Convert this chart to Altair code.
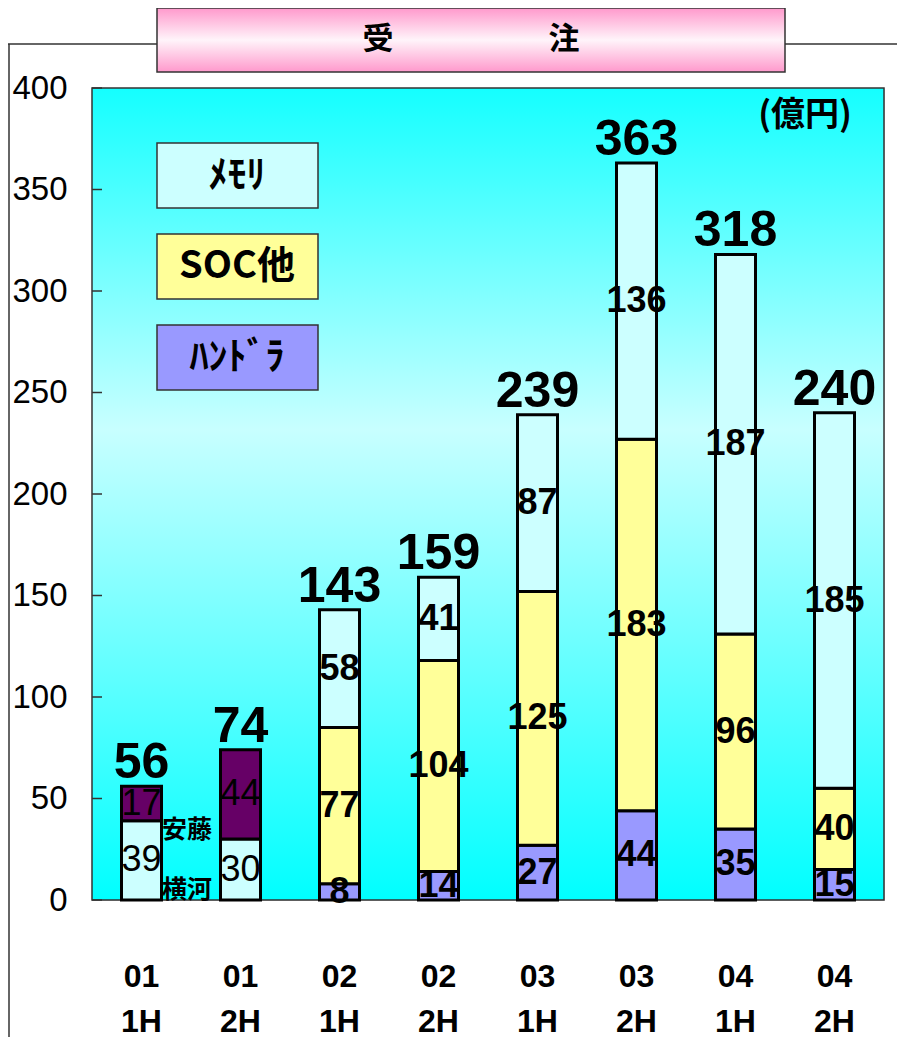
import altair as alt
import pandas as pd

# ---------------- data ----------------
periods = ["01 1H", "01 2H", "02 1H", "02 2H", "03 1H", "03 2H", "04 1H", "04 2H"]
yokogawa = [39, 30, None, None, None, None, None, None]
ando = [17, 44, None, None, None, None, None, None]
handler = [None, None, 8, 14, 27, 44, 35, 15]
soc = [None, None, 77, 104, 125, 183, 96, 40]
memory = [None, None, 58, 41, 87, 136, 187, 185]

series_names = ["横河", "安藤", "ﾊﾝﾄﾞﾗ", "SOC他", "ﾒﾓﾘ"]
series_values = [yokogawa, ando, handler, soc, memory]
series_colors = ["#CCFFFF", "#660066", "#9999FF", "#FFFF99", "#CCFFFF"]

legend_items = ["ﾒﾓﾘ", "SOC他", "ﾊﾝﾄﾞﾗ"]
y_ticks = [0, 50, 100, 150, 200, 250, 300, 350, 400]
title_text = "受　　　　　注"
unit_text = "(億円)"
annotations = ["安藤", "横河"]

rows = []
for k, (name, vals) in enumerate(zip(series_names, series_values)):
    for p, v in zip(periods, vals):
        if v is not None:
            rows.append({"period": p, "series": name, "value": v, "order": k})
df = pd.DataFrame(rows)
color_of = dict(zip(series_names, series_colors))

# ---------------- style ----------------
W, H = 792, 812
NARROW = "Liberation Sans Narrow, Arial Narrow, Liberation Sans, Arial, sans-serif"
BOLDSANS = "Liberation Sans, Arial, sans-serif"
CJK = "Noto Sans CJK JP, sans-serif"
FRAME = "#333333"

yscale = alt.Scale(domain=[0, 400], nice=False, zero=True)
y_axis = alt.Axis(values=y_ticks, grid=False, domain=False, ticks=False,
                  labelFont=NARROW, labelFontSize=33, labelPadding=25,
                  labelColor="black", labelFlush=False, labelOverlap=False,
                  labelBaseline="middle")
x_enc = alt.X("period:N", sort=periods, title=None,
              scale=alt.Scale(domain=periods, paddingInner=0, paddingOuter=0),
              axis=alt.Axis(labelExpr="split(datum.label, ' ')", labelFont=NARROW,
                            labelFontWeight="bold", labelFontSize=32,
                            labelLineHeight=45, labelPadding=61,
                            labelBaseline="top", labelAngle=0, ticks=False,
                            domain=False, labelColor="black"))

one = alt.Data(values=[{"a": 1}])

# frame lines
frame_h = alt.Chart(one).mark_rule(color=FRAME, strokeWidth=1.5).encode(
    x=alt.value(-84), x2=alt.value(805), y=alt.value(-44))
frame_v = alt.Chart(one).mark_rule(color=FRAME, strokeWidth=1.5).encode(
    x=alt.value(-83), y=alt.value(-44), y2=alt.value(949))

# title box
title_box = alt.Chart(one).mark_rect(
    fill=alt.Gradient(gradient="linear", x1=0, x2=0, y1=0, y2=1,
                      stops=[alt.GradientStop(color="#FF99CC", offset=0),
                             alt.GradientStop(color="#FFF4FA", offset=0.5),
                             alt.GradientStop(color="#FF99CC", offset=1)]),
    stroke=FRAME, strokeWidth=1.5).encode(
    x=alt.value(65), x2=alt.value(693), y=alt.value(-80), y2=alt.value(-16))
title_mark = alt.Chart(one).mark_text(
    text=title_text, font=CJK, fontWeight="bold", fontSize=31,
    baseline="middle", align="center", color="black").encode(
    x=alt.value(379), y=alt.value(-48))

# plot background
bg = alt.Chart(one).mark_rect(
    fill=alt.Gradient(gradient="linear", x1=0, x2=0, y1=0, y2=1,
                      stops=[alt.GradientStop(color="#14FFFF", offset=0),
                             alt.GradientStop(color="#C8FFFF", offset=0.42),
                             alt.GradientStop(color="#00FFFF", offset=1)]),
    stroke=FRAME, strokeWidth=1.5).encode(
    x=alt.value(0), x2=alt.value(W), y=alt.value(0), y2=alt.value(H))

ticks = alt.Chart(pd.DataFrame({"v": y_ticks})).mark_rule(
    color=FRAME, strokeWidth=1.5).encode(
    y=alt.Y("v:Q", scale=yscale, axis=y_axis, title=None),
    x=alt.value(0), x2=alt.value(10))

base = alt.Chart(df).transform_stack(
    stack="value", groupby=["period"],
    sort=[alt.SortField(field="order", order="ascending")],
    as_=["y0", "y1"]).transform_calculate(mid="(datum.y0 + datum.y1) / 2")

bars = base.mark_bar(size=40, stroke="black", strokeWidth=3).encode(
    x=x_enc,
    y=alt.Y("y0:Q", scale=yscale, axis=y_axis, title=None),
    y2="y1:Q",
    fill=alt.Fill("series:N", scale=alt.Scale(domain=series_names, range=series_colors),
                  legend=None))

inner_bold = base.transform_filter(
    alt.FieldOneOfPredicate(field="series", oneOf=["ﾊﾝﾄﾞﾗ", "SOC他", "ﾒﾓﾘ"])
).mark_text(font=NARROW, fontWeight="bold", fontSize=36, baseline="middle",
            color="black").encode(
    x=x_enc, y=alt.Y("mid:Q", scale=yscale, axis=y_axis, title=None),
    text="value:Q")

inner_reg = base.transform_filter(
    alt.FieldOneOfPredicate(field="series", oneOf=["横河", "安藤"])
).mark_text(font=NARROW, fontWeight="normal", fontSize=36, baseline="middle",
            color="black").encode(
    x=x_enc, y=alt.Y("mid:Q", scale=yscale, axis=y_axis, title=None),
    text="value:Q")

totals = alt.Chart(df).transform_aggregate(
    total="sum(value)", groupby=["period"]
).mark_text(font=BOLDSANS, fontWeight="bold", fontSize=50, baseline="alphabetic",
            dy=-8, color="black").encode(
    x=x_enc, y=alt.Y("total:Q", scale=yscale, axis=y_axis, title=None),
    text="total:Q")

# custom legend
legend_layers = []
for i, name in enumerate(legend_items):
    top = 55 + 91 * i
    legend_layers.append(alt.Chart(one).mark_rect(
        fill=color_of[name], stroke=FRAME, strokeWidth=1.5).encode(
        x=alt.value(65), x2=alt.value(226), y=alt.value(top), y2=alt.value(top + 65)))
    legend_layers.append(alt.Chart(one).mark_text(
        text=name, font=CJK, fontWeight="bold", fontSize=38, baseline="middle",
        align="center", color="black").encode(
        x=alt.value(145), y=alt.value(top + 33)))

# annotations next to first bar
ann_layers = []
for j, name in enumerate(annotations):
    ann_layers.append(alt.Chart(one).mark_text(
        text=name, font=CJK, fontWeight="bold", fontSize=25, baseline="middle",
        align="center", color="black").encode(
        x=alt.value(95), y=alt.value(742 + 60 * j)))

unit = alt.Chart(one).mark_text(
    text=unit_text, font=CJK, fontWeight="bold", fontSize=34, baseline="middle",
    align="center", color="black").encode(x=alt.value(713), y=alt.value(28))

chart = alt.layer(
    frame_h, frame_v, title_box, title_mark, bg, ticks, bars, inner_bold,
    inner_reg, totals, *legend_layers, *ann_layers, unit
).properties(
    width=W, height=H,
    padding={"left": 84, "top": 80, "right": 13, "bottom": 137},
    autosize=alt.AutoSizeParams(type="none"),
).configure_view(stroke=None).configure(background="white")

chart.save("out.html", embed_options={"renderer": "svg", "actions": False})
